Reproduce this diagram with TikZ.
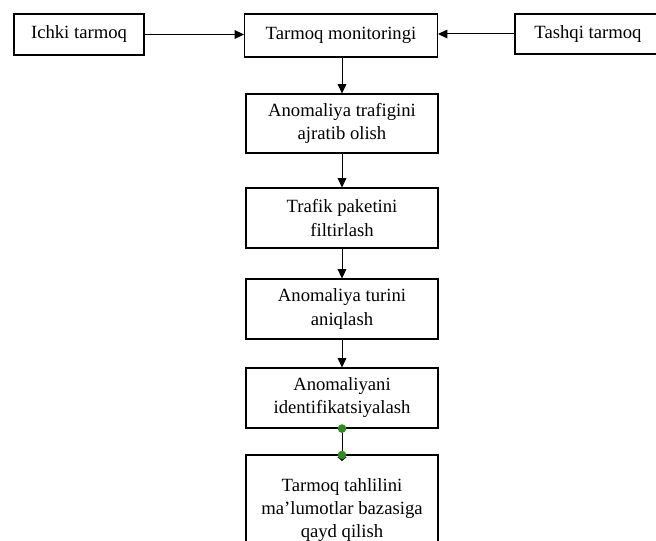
\documentclass[tikz,border=0pt]{standalone}
\usepackage{fontspec}
\setmainfont{Liberation Serif}
\usetikzlibrary{arrows.meta}
\tikzset{
  box/.style={draw, line width=0.8pt, align=center, inner sep=0pt, font=\fontsize{14pt}{17.3pt}\selectfont},
  arr/.style={line width=0.75pt, -{Triangle[length=7pt,width=6.5pt]}},
  handle/.style={circle, fill={rgb,255:red,46;green,140;blue,30}, inner sep=0pt, minimum size=6.5pt},
}
\begin{document}
\begin{tikzpicture}[x=0.75pt,y=-0.75pt]
\useasboundingbox (0,0) rectangle (656,541);
\clip (0,0) rectangle (656,541);
% top row
\node[box, minimum width=97.5pt, minimum height=30.75pt] (ichki) at (79,34.5) {Ichki tarmoq};
\node[box, minimum width=144.75pt, minimum height=32.25pt] (tm) at (341,35.5) {Tarmoq monitoringi};
\node[box, minimum width=109.5pt, minimum height=30pt] (tashqi) at (588,34) {Tashqi tarmoq};
% column
\node[box, minimum width=144pt, minimum height=44.25pt] (b1) at (342,123.5) {Anomaliya trafigini\\ajratib olish};
\node[box, minimum width=144pt, minimum height=45pt] (b2) at (342,218) {Trafik paketini\\filtirlash};
\node[box, minimum width=144pt, minimum height=45pt] (b3) at (342,309) {Anomaliya turini\\aniqlash};
\node[box, minimum width=144pt, minimum height=45pt] (b4) at (342,398) {Anomaliyani\\identifikatsiyalash};
% last box (open at the bottom of the picture)
\node[box, draw=none, minimum width=144pt] (b5) at (342,510) {Tarmoq tahlilini\\ma’lumotlar bazasiga\\qayd qilish};
\coordinate (b5tl) at (246,455);
\coordinate (b5tr) at (438,455);
\draw[line width=0.8pt] (246,560) -- (b5tl) -- (b5tr) -- (438,560);
% connectors
\draw[arr] (ichki.east) -- (ichki.east -| tm.west);
\draw[arr] (tashqi.west) -- (tashqi.west -| tm.east);
\draw[arr] (tm.south -| b1.north) -- (b1.north);
\draw[arr] (b1) -- (b2);
\draw[arr] (b2) -- (b3);
\draw[arr] (b3) -- (b4);
\coordinate (d1) at (b4.south);
\coordinate (d2) at (342,455);
\draw[line width=0.75pt, -{Triangle[length=3pt,width=7pt]}] (d1) -- ([yshift=-4.5pt]d2);
\node[handle] (h1) at (d1) {};
\node[handle] (h2) at (d2) {};
\end{tikzpicture}
\end{document}
